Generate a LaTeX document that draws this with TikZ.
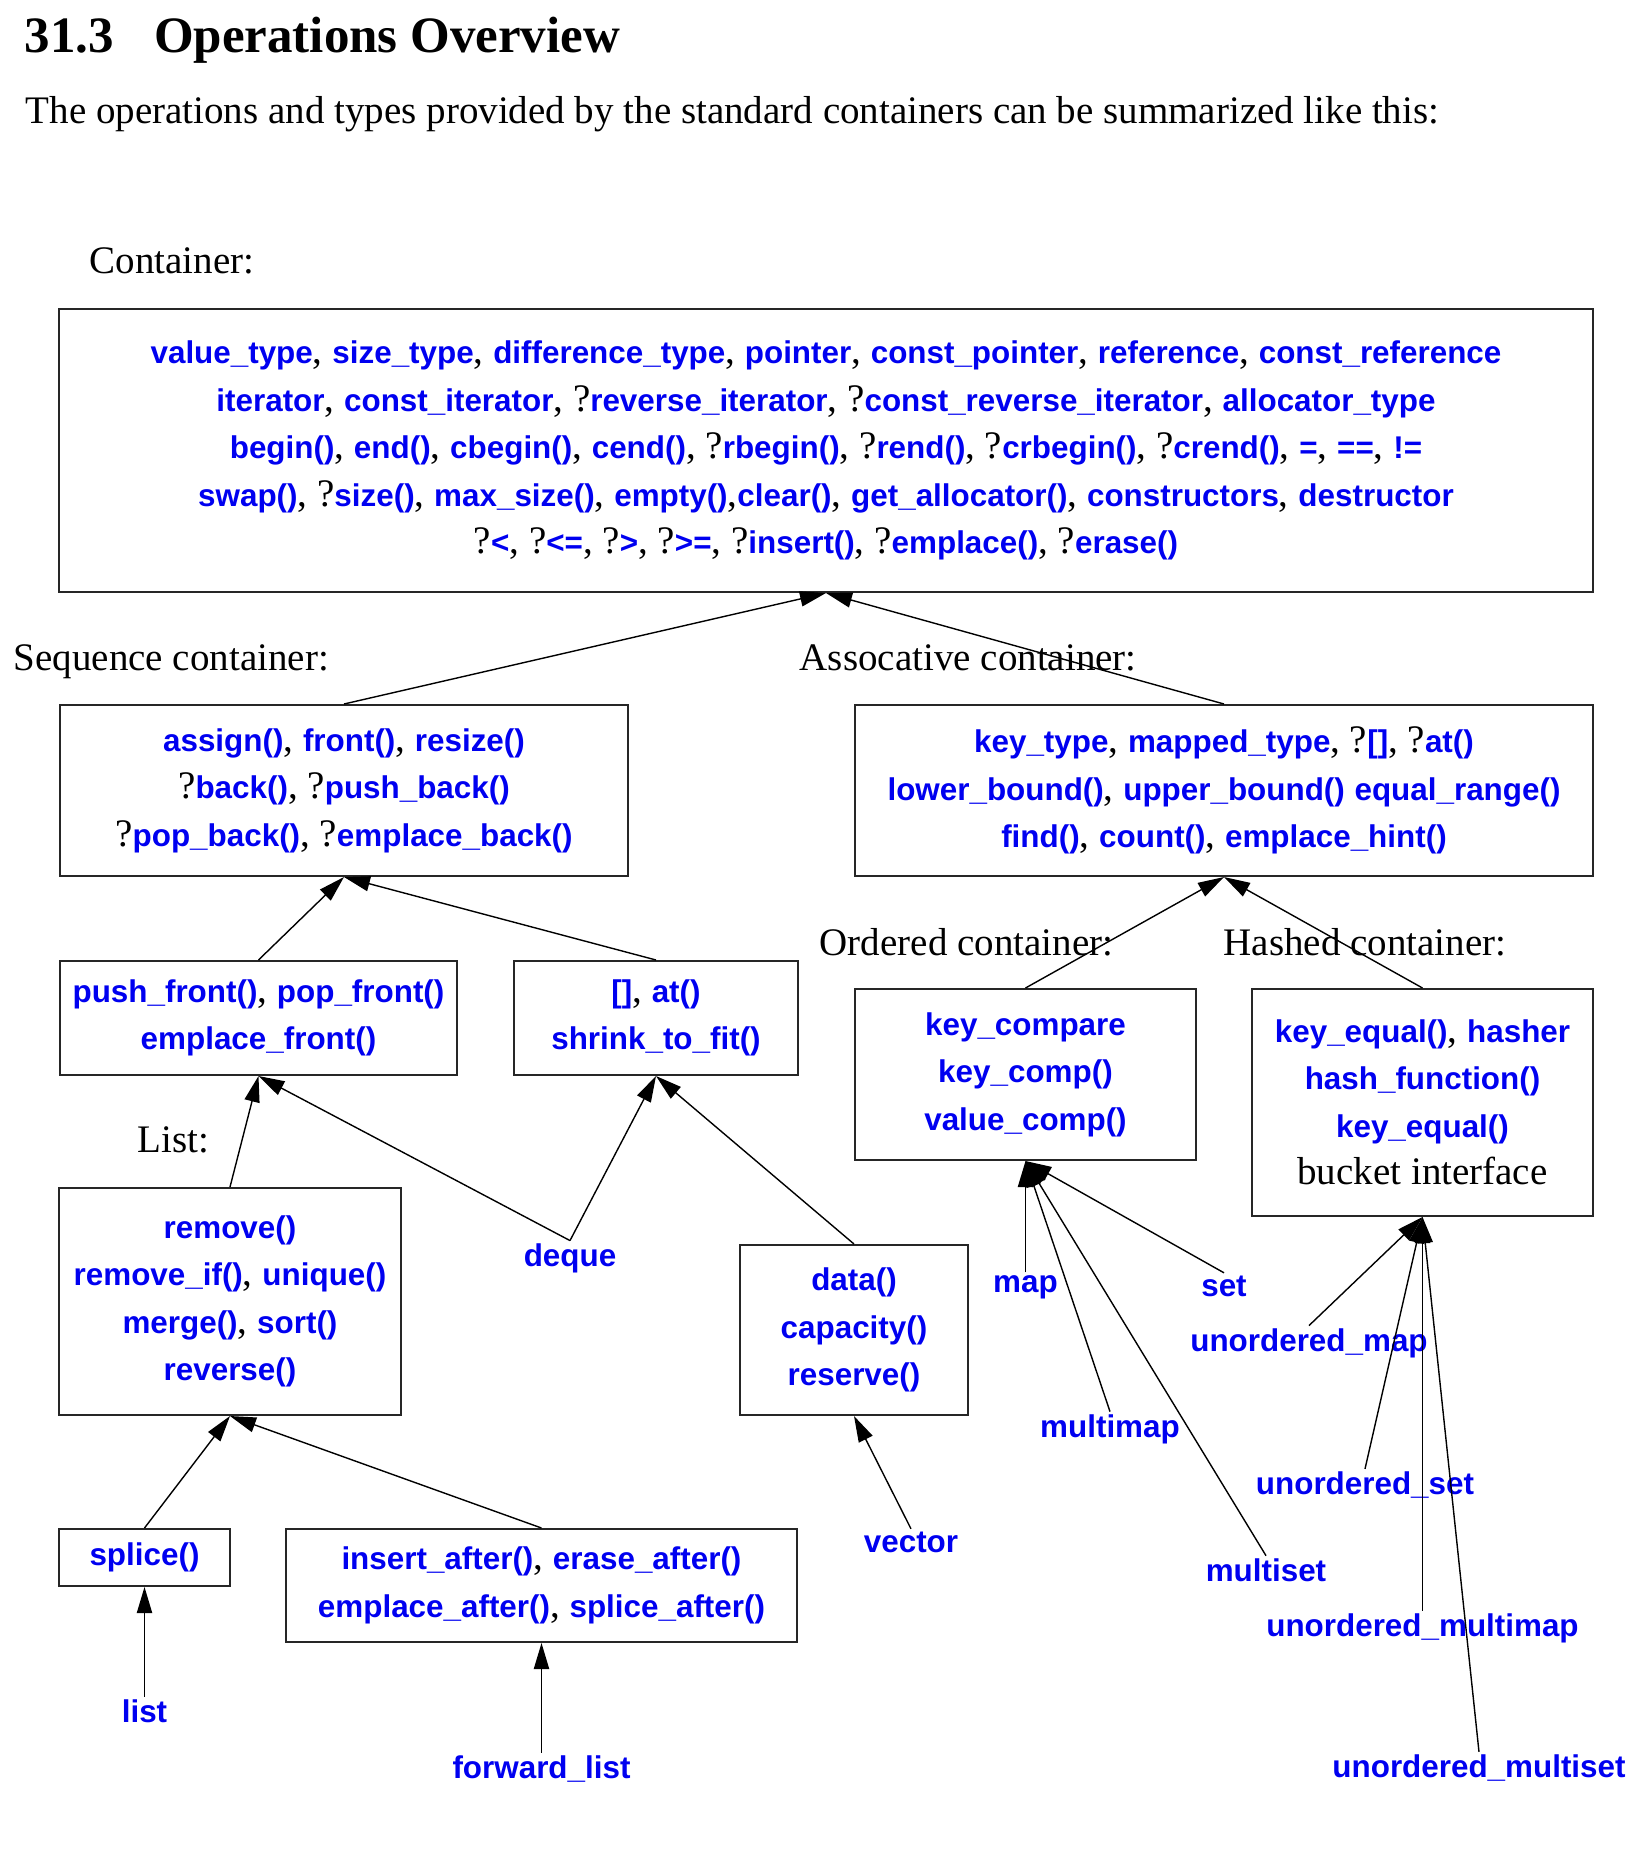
\documentclass[tikz,border=0pt]{standalone}
\usepackage{fontspec}
\setmainfont{Liberation Serif}
\newfontfamily\opsans{Liberation Sans}
\usetikzlibrary{arrows.meta, positioning}
\definecolor{opblue}{RGB}{0,0,240}
\newcommand{\op}[1]{{\opsans\bfseries\fontsize{7.85bp}{11.875bp}\selectfont\color{opblue}#1}}
\newcommand{\bodysize}{\fontsize{9.75bp}{11.875bp}\selectfont}

\begin{document}
\begin{tikzpicture}[x=0.25bp, y=-0.25bp,
  opbox/.style 2 args={rectangle,draw=black!85,line width=0.5bp,inner sep=0pt, minimum width=#1,minimum height=#2,align=center,font=\bodysize},
  leaf/.style={inner sep=0.5bp,font=\bodysize},
  lbl/.style={anchor=base west,inner sep=0pt,font=\bodysize},
  arr/.style={-{Triangle[length=6.5bp,width=3.8bp]},line width=0.35bp}
]
  \useasboundingbox (0,0) rectangle (1640,1849);

  % heading and intro
  \node[lbl,font=\fontsize{12.75bp}{15bp}\selectfont\bfseries] (title) at (24,52) {31.3\hspace{10bp}Operations Overview};
  \node[lbl] (intro) at (25,123) {The operations and types provided by the standard containers can be summarized like this:};

  % group captions
  \node[lbl] (capcont) at (89,273)  {Container:};
  \node[lbl] (capseq)  at (13,670)  {Sequence container:};
  \node[lbl] (capass)  at (799,670) {Assocative container:};
  \node[lbl] (capord)  at (819,955) {Ordered container:};
  \node[lbl] (caphash) at (1223,955){Hashed container:};
  \node[lbl] (caplist) at (137,1152){List:};

  % boxes
  \node[opbox={383.5bp}{70.75bp}] (cont) at (826,450.5) {\op{value\_type}, \op{size\_type}, \op{difference\_type}, \op{pointer}, \op{const\_pointer}, \op{reference}, \op{const\_reference}\\
    \op{iterator}, \op{const\_iterator}, ?\op{reverse\_iterator}, ?\op{const\_reverse\_iterator}, \op{allocator\_type}\\
    \op{begin()}, \op{end()}, \op{cbegin()}, \op{cend()}, ?\op{rbegin()}, ?\op{rend()}, ?\op{crbegin()}, ?\op{crend()}, \op{=}, \op{==}, \op{!=}\\
    \op{swap()}, ?\op{size()}, \op{max\_size()}, \op{empty()},\op{clear()}, \op{get\_allocator()}, \op{constructors}, \op{destructor}\\
    ?\op{<}, ?\op{<=}, ?\op{>}, ?\op{>=}, ?\op{insert()}, ?\op{emplace()}, ?\op{erase()}};
  \node[opbox={142bp}{42.75bp}] (seq) at (344,790.5) {\op{assign()}, \op{front()}, \op{resize()}\\ ?\op{back()}, ?\op{push\_back()}\\ ?\op{pop\_back()}, ?\op{emplace\_back()}};
  \node[opbox={184.5bp}{42.75bp}] (assoc) at (1224,790.5) {\op{key\_type}, \op{mapped\_type}, ?\op{[]}, ?\op{at()}\\ \op{lower\_bound()}, \op{upper\_bound()} \op{equal\_range()}\\ \op{find()}, \op{count()}, \op{emplace\_hint()}};
  \node[opbox={99.25bp}{28.5bp}] (front) at (258.5,1018) {\op{push\_front()}, \op{pop\_front()}\\ \op{emplace\_front()}};
  \node[opbox={71bp}{28.5bp}] (index) at (656,1018) {\op{[]}, \op{at()}\\ \op{shrink\_to\_fit()}};
  \node[opbox={85.25bp}{42.75bp}] (ord) at (1025.5,1074.5) {\op{key\_compare}\\ \op{key\_comp()}\\ \op{value\_comp()}};
  \node[opbox={85.25bp}{56.75bp}] (hash) at (1422.5,1102.5) {\op{key\_equal()}, \op{hasher}\\ \op{hash\_function()}\\ \op{key\_equal()}\\ bucket interface};
  \node[opbox={85.25bp}{56.75bp}] (listops) at (230,1301.5) {\op{remove()}\\ \op{remove\_if()}, \op{unique()}\\ \op{merge()}, \op{sort()}\\ \op{reverse()}};
  \node[opbox={57bp}{42.5bp}] (contig) at (854,1330) {\op{data()}\\ \op{capacity()}\\ \op{reserve()}};
  \node[opbox={42.75bp}{14.25bp}] (splice) at (144.5,1557.5) {\op{splice()}};
  \node[opbox={127.75bp}{28.25bp}] (after) at (541.5,1585.5) {\op{insert\_after()}, \op{erase\_after()}\\ \op{emplace\_after()}, \op{splice\_after()}};

  % containers
  \node[leaf] (deque)   at (570,1258)  {\op{deque}};
  \node[leaf] (vector)  at (911,1542)  {\op{vector}};
  \node[leaf] (list)    at (144.5,1711){\op{list}};
  \node[leaf] (flist)   at (541.5,1769){\op{forward\_list}};
  \node[leaf] (map)     at (1025.5,1287){\op{map}};
  \node[leaf] (set)     at (1224,1286) {\op{set}};
  \node[leaf] (mmap)    at (1110,1429) {\op{multimap}};
  \node[leaf] (mset)    at (1266,1570) {\op{multiset}};
  \node[leaf] (umap)    at (1309,1343) {\op{unordered\_map}};
  \node[leaf] (uset)    at (1365,1485) {\op{unordered\_set}};
  \node[leaf] (ummap)   at (1422.5,1628){\op{unordered\_multimap}};
  \node[leaf] (umset)   at (1479,1768) {\op{unordered\_multiset}};

  % inheritance arrows
  \draw[arr](seq.north)--(cont.south); \draw[arr](assoc.north)--(cont.south);
  \draw[arr](front.north)--(seq.south); \draw[arr](index.north)--(seq.south);
  \draw[arr](ord.north)--(assoc.south); \draw[arr](hash.north)--(assoc.south);
  \draw[arr](listops.north)--(front.south);
  \draw[arr](deque.north)--(front.south); \draw[arr](deque.north)--(index.south);
  \draw[arr](contig.north)--(index.south);
  \draw[arr](splice.north)--(listops.south); \draw[arr](after.north)--(listops.south);
  \draw[arr](list.north)--(splice.south); \draw[arr](flist.north)--(after.south);
  \draw[arr](vector.north)--(contig.south);
  \draw[arr](map.north)--(ord.south); \draw[arr](set.north)--(ord.south);
  \draw[arr](mmap.north)--(ord.south); \draw[arr](mset.north)--(ord.south);
  \draw[arr](umap.north)--(hash.south); \draw[arr](uset.north)--(hash.south);
  \draw[arr](ummap.north)--(hash.south); \draw[arr](umset.north)--(hash.south);
\end{tikzpicture}
\end{document}
